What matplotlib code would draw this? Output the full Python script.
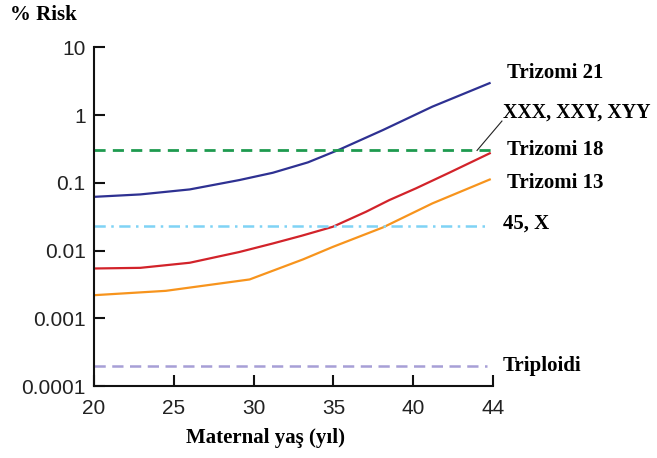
import matplotlib
matplotlib.use("Agg")
import matplotlib.pyplot as plt
from matplotlib.ticker import NullLocator, FixedLocator, FixedFormatter

# Data (x in drawn axis positions; the last tick "44" sits at position 45)
t21_x = [20, 22.9, 26.0, 29.1, 31.2, 33.4, 35.4, 38.1, 41.2, 44.85]
t21_y = [0.062, 0.0673, 0.0798, 0.1096, 0.1405, 0.2, 0.311, 0.6, 1.33, 3.0]
t18_x = [20, 22.9, 26.0, 29.1, 31.2, 33.0, 34.96, 37.04, 38.5, 40.17, 42.25, 44.86]
t18_y = [0.00543, 0.00555, 0.0066, 0.0095, 0.0127, 0.0165, 0.0224, 0.0373, 0.0555, 0.0827, 0.1405, 0.277]
t13_x = [20, 24.5, 29.75, 33.1, 34.96, 38.1, 41.2, 44.86]
t13_y = [0.00219, 0.00254, 0.00374, 0.0074, 0.0113, 0.0219, 0.0496, 0.1134]
xxx_level = 0.3
x45_level = 0.023
trip_level = 0.0002
level_start = 20
level_end = [44.9, 44.6, 44.6]

xtick_pos = [20, 25, 30, 35, 40, 45]
xtick_labels = ["20", "25", "30", "35", "40", "44"]
ytick_vals = [0.0001, 0.001, 0.01, 0.1, 1, 10]
ytick_labels = ["0.0001", "0.001", "0.01", "0.1", "1", "10"]

series_labels = ["Trizomi 21", "XXX, XXY, XYY", "Trizomi 18", "Trizomi 13", "45, X", "Triploidi"]
label_x = [45.9, 45.65, 45.9, 45.9, 45.6, 45.6]
label_y = [4.17, 1.1, 0.30, 0.099, 0.0254, 0.0002]
label_size = [15, 14.3, 15, 15, 15, 15]

fig = plt.figure(figsize=(6.57, 4.58), dpi=100)
ax = fig.add_axes([94/657, 1-386/458, (493-94)/657, (386-47.3)/458])

navy = "#2E3192"
red = "#D2232A"
orange = "#F7941D"
green = "#1E9A4F"
cyan = "#7FD3F5"
purple = "#A79FD6"

ax.plot(t21_x, t21_y, color=navy, lw=1.6, solid_capstyle="butt")
ax.plot(t18_x, t18_y, color=red, lw=1.6, solid_capstyle="butt")
ax.plot(t13_x, t13_y, color=orange, lw=1.6, solid_capstyle="butt")
ax.plot([level_start, level_end[0]], [xxx_level]*2, color=green, lw=2.0, dashes=(4, 2.6))
ax.plot([level_start, level_end[1]], [x45_level]*2, color=cyan, lw=1.8, dashes=(4.5, 2.2, 1, 2.2))
ax.plot([level_start, level_end[2]], [trip_level]*2, color=purple, lw=1.8, dashes=(4.5, 2.6))

ax.set_yscale("log")
ax.set_xlim(20, 45)
ax.set_ylim(1e-4, 10)
ax.yaxis.set_major_locator(FixedLocator(ytick_vals))
ax.yaxis.set_major_formatter(FixedFormatter(ytick_labels))
ax.yaxis.set_minor_locator(NullLocator())
ax.xaxis.set_major_locator(FixedLocator(xtick_pos))
ax.xaxis.set_major_formatter(FixedFormatter(xtick_labels))
ax.xaxis.set_minor_locator(NullLocator())

for s in ["top", "right"]:
    ax.spines[s].set_visible(False)
for s in ["left", "bottom"]:
    ax.spines[s].set_linewidth(1.5)
    ax.spines[s].set_color("#111111")
ax.tick_params(direction="in", length=8, width=1.5, color="#111111",
               labelsize=15, pad=6)
ax.tick_params(axis="x", pad=9)
for lab in ax.get_xticklabels() + ax.get_yticklabels():
    lab.set_family("Liberation Sans")
    lab.set_color("#222222")
ax.set_facecolor("none")

serif = dict(family="Liberation Serif", weight="bold", color="black")
for t, x, y, fs in zip(series_labels, label_x, label_y, label_size):
    ax.text(x, y, t, ha="left", va="center", clip_on=False, fontsize=fs, **serif)

ax.plot([44.0, 45.56], [0.3, 0.815], color="#222222", lw=0.8, clip_on=False)

fig.text(10/657, 1-15/458, "% Risk", ha="left", va="center", fontsize=15, **serif)
fig.text(265/657, 1-438/458, "Maternal yaş (yıl)", ha="center", va="center", fontsize=15, **serif)

fig.savefig("out.png", dpi=100)
